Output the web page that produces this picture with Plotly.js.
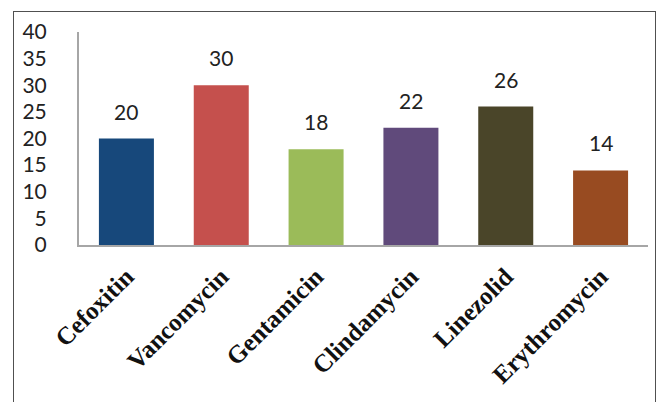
<!DOCTYPE html>
<html>
<head>
<meta charset="utf-8">
<script src="https://cdn.plot.ly/plotly-3.0.1.min.js"></script>
<style>
html,body{margin:0;padding:0;background:#fff;}
#wrap{position:relative;width:659px;height:402px;}
#chart{width:659px;height:402px;}
#frame{position:absolute;left:13px;top:11px;width:643px;height:400px;border:1px solid #505050;pointer-events:none;box-sizing:border-box;}
</style>
</head>
<body>
<div id="wrap"><div id="chart"></div><div id="frame"></div></div>
<script>
const categories = ["Cefoxitin","Vancomycin","Gentamicin","Clindamycin","Linezolid","Erythromycin"];
const values = [20, 30, 18, 22, 26, 14];
const barColors = ["#17487b","#c5504d","#9bbb59","#604a7b","#4a4529","#984b21"];
const yTicks = [0,5,10,15,20,25,30,35,40];

const trace = {
  type: "bar",
  x: categories,
  y: values,
  marker: {color: barColors},
  hoverinfo: "none"
};

const annotations = categories.map((c, i) => ({
  x: c, y: values[i], xref: "x", yref: "y",
  text: String(values[i]),
  showarrow: false,
  yanchor: "bottom",
  yshift: 13,
  font: {family: "Lato, 'Open Sans', sans-serif", size: 21, color: "#222"}
}));

const layout = {
  width: 659, height: 402,
  margin: {l: 79, r: 11, t: 32, b: 157},
  paper_bgcolor: "#fff",
  plot_bgcolor: "#fff",
  bargap: 0.42,
  showlegend: false,
  xaxis: {
    tickangle: -45,
    tickfont: {family: "'Liberation Serif', 'Times New Roman', serif", size: 25, color: "#111", weight: "bold"},
    showline: true, linecolor: "#a6a6a6", linewidth: 2,
    ticks: "outside", ticklen: 5, tickcolor: "rgba(0,0,0,0)",
    showgrid: false, zeroline: false,
    fixedrange: true
  },
  yaxis: {
    range: [0, 40],
    tickvals: yTicks,
    ticktext: yTicks.map(String),
    tickfont: {family: "Lato, 'Open Sans', sans-serif", size: 21, color: "#222"},
    showline: true, linecolor: "#a6a6a6", linewidth: 2,
    ticks: "outside", ticklen: 26, tickcolor: "rgba(0,0,0,0)",
    showgrid: false, zeroline: false,
    fixedrange: true
  },
  annotations: annotations
};

Plotly.newPlot("chart", [trace], layout, {staticPlot: true, displayModeBar: false});
</script>
</body>
</html>
